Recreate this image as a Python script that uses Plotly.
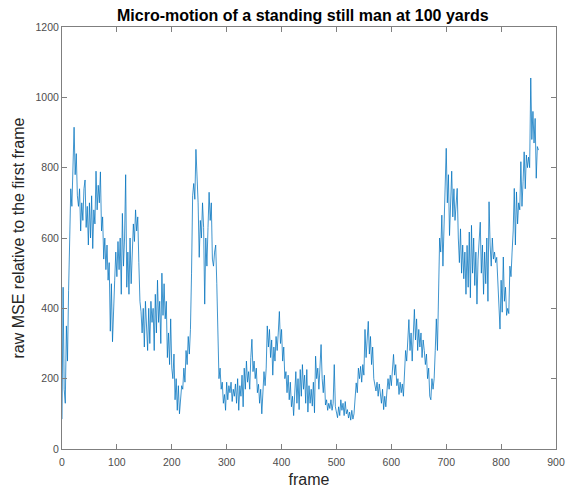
import plotly.graph_objects as go

# MSE values sampled every 2 frames (frame 0, 2, 4, ...)
mse_0_198 = [
    85, 460, 170, 130, 350, 250, 450, 640, 740, 690,
    850, 915, 780, 840, 720, 690, 740, 620, 700, 650,
    740, 765, 630, 690, 580, 700, 600, 720, 570, 680,
    640, 790, 680, 750, 700, 788, 620, 660, 540, 600,
    510, 580, 480, 530, 335, 470, 305, 420, 480, 560,
    490, 590, 510, 600, 440, 670, 520, 600, 780, 460,
    560, 440, 600, 470, 560, 640, 590, 680, 620, 660,
    530, 420, 390, 330, 400, 290, 420, 350, 280, 400,
    300, 420, 360, 400, 280, 440, 330, 480, 360, 420,
    300, 500, 380, 470, 370, 420, 260, 330, 240, 370,
]
mse_200_398 = [
    230, 200, 270, 140, 200, 110, 180, 100, 160, 180,
    170, 230, 190, 280, 240, 320, 270, 340, 500, 720,
    755, 710, 852, 770, 700, 545, 650, 600, 700, 630,
    412, 600, 520, 630, 730, 650, 700, 540, 520, 560,
    580, 470, 330, 200, 230, 170, 190, 130, 155, 110,
    190, 140, 180, 160, 190, 135, 170, 150, 185, 130,
    200, 110, 180, 150, 210, 120, 230, 170, 250, 190,
    220, 170, 260, 312, 220, 250, 200, 230, 160, 184,
    130, 170, 100, 150, 220, 180, 230, 350, 290, 340,
    260, 310, 210, 290, 250, 320, 280, 330, 391, 300,
]
mse_400_598 = [
    340, 250, 290, 200, 220, 160, 210, 140, 190, 120,
    150, 95, 170, 220, 130, 200, 112, 226, 150, 240,
    170, 210, 130, 226, 105, 180, 130, 170, 122, 190,
    103, 264, 200, 230, 170, 260, 297, 200, 160, 210,
    125, 140, 110, 130, 115, 140, 110, 130, 240, 120,
    100, 89, 120, 95, 140, 110, 130, 95, 135, 100,
    112, 88, 105, 82, 110, 85, 100, 150, 188, 160,
    230, 200, 235, 190, 240, 210, 340, 260, 300, 363,
    270, 320, 240, 290, 200, 180, 165, 190, 150, 185,
    160, 130, 170, 112, 150, 120, 165, 200, 170, 210,
]
mse_600_798 = [
    180, 230, 269, 210, 240, 180, 200, 155, 190, 160,
    185, 150, 230, 280, 250, 300, 368, 280, 330, 250,
    320, 397, 310, 370, 280, 340, 290, 330, 260, 310,
    280, 240, 270, 200, 230, 150, 140, 200, 170, 200,
    280, 370, 280, 450, 600, 560, 665, 520, 640, 720,
    855, 700, 780, 607, 740, 790, 660, 740, 650, 700,
    741, 600, 530, 626, 500, 580, 484, 560, 440, 579,
    460, 617, 430, 636, 500, 600, 465, 560, 412, 540,
    600, 645, 500, 580, 440, 560, 470, 600, 420, 703,
    580, 520, 600, 540, 560, 530, 545, 460, 400, 341,
]
mse_800_868 = [
    480, 389, 546, 420, 460, 380, 400, 385, 520, 490,
    560, 620, 741, 580, 731, 640, 700, 680, 817, 690,
    760, 845, 740, 836, 800, 830, 800, 1055, 880, 960,
    870, 940, 770, 860, 850,
]
mse = mse_0_198 + mse_200_398 + mse_400_598 + mse_600_798 + mse_800_868
frames = list(range(0, 2 * len(mse), 2))

x_ticks = [0, 100, 200, 300, 400, 500, 600, 700, 800, 900]
y_ticks = [0, 200, 400, 600, 800, 1000, 1200]

font_family = "Liberation Sans, Arial, Helvetica, sans-serif"
axis_grey = "#7f7f7f"

fig = go.Figure()
fig.add_trace(go.Scatter(
    x=frames, y=mse, mode="lines",
    line=dict(color="#0072BD", width=0.75),
    showlegend=False, hoverinfo="skip",
))

fig.update_layout(
    width=566, height=488,
    margin=dict(l=62, r=10, t=27, b=39, autoexpand=False),
    paper_bgcolor="white", plot_bgcolor="white",
    font=dict(family=font_family, color="#404040", size=10),
    title=dict(
        text="<b>Micro-motion of a standing still man at 100 yards</b>",
        xref="container", x=0.535, xanchor="center",
        yref="container", y=0.968, yanchor="middle",
        font=dict(family=font_family, size=16, color="black"),
    ),
)
fig.update_xaxes(
    range=[0, 900], tickvals=x_ticks, automargin=False,
    showline=True, mirror="ticks", linecolor=axis_grey, linewidth=1,
    ticks="inside", ticklen=5, tickcolor=axis_grey,
    showgrid=False, zeroline=False, ticklabelstandoff=3,
    tickfont=dict(size=10.5, color="#4d4d4d"),
    title=dict(text="frame", standoff=9,
               font=dict(size=16, color="#262626")),
)
fig.update_yaxes(
    range=[0, 1200], tickvals=y_ticks, automargin=False,
    showline=True, mirror="ticks", linecolor=axis_grey, linewidth=1,
    ticks="inside", ticklen=5, tickcolor=axis_grey,
    showgrid=False, zeroline=False,
    tickfont=dict(size=10.5, color="#4d4d4d"),
    title=dict(text="raw MSE relative to the first frame", standoff=6,
               font=dict(size=16, color="#262626")),
)

fig.write_html("out.html")
